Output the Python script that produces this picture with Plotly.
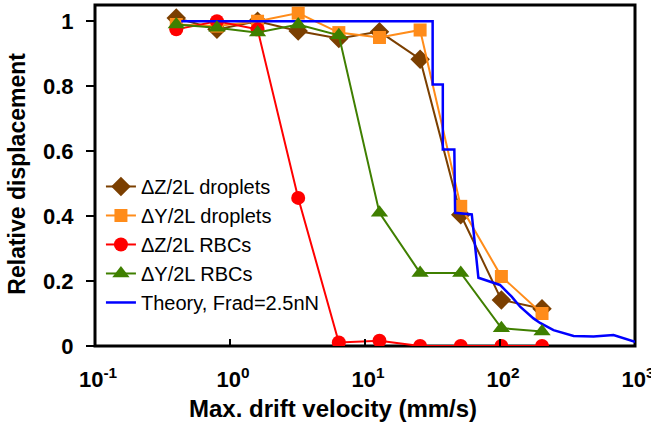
import plotly.graph_objects as go

# Data
velocity = [0.4, 0.8, 1.6, 3.2, 6.4, 12.8, 25.6, 51.2, 102.4, 204.8]
dz_droplets = [1.01, 0.975, 1.0, 0.97, 0.947, 0.968, 0.883, 0.404, 0.142, 0.115]
dy_droplets = [0.99, 0.985, 1.0, 1.025, 0.965, 0.95, 0.973, 0.43, 0.214, 0.10]
dz_rbcs = [0.975, 1.0, 0.975, 0.456, 0.011, 0.016, 0.0, 0.0, 0.0, 0.0]
dy_rbcs = [0.99, 0.98, 0.965, 0.99, 0.957, 0.41, 0.225, 0.225, 0.055, 0.045]

theory_x = [0.435, 31.7, 31.7, 37.7, 37.7, 45.9, 46.5, 61.8, 69.2, 100, 122, 141,
            177, 198, 249, 351, 493, 693, 1000]
theory_y = [1.0, 1.0, 0.805, 0.805, 0.605, 0.605, 0.41, 0.405, 0.21, 0.188, 0.152,
            0.121, 0.085, 0.071, 0.049, 0.031, 0.029, 0.034, 0.013]

x_tickvals = [0.1, 1, 10, 100, 1000]
x_ticktext = ["10<sup>-1</sup>", "10<sup>0</sup>", "10<sup>1</sup>", "10<sup>2</sup>", "10<sup>3</sup>"]
y_tickvals = [0, 0.2, 0.4, 0.6, 0.8, 1]
y_ticktext = ["0", "0.2", "0.4", "0.6", "0.8", "1"]

FONT = "Liberation Sans, Arial, sans-serif"
BROWN = "#7B3F00"
ORANGE = "#FF8C1A"
RED = "#FF0000"
GREEN = "#3F7F00"
BLUE = "#0000FF"

fig = go.Figure()
fig.add_trace(go.Scatter(x=velocity, y=dz_droplets, mode="lines+markers",
                         name="\u0394Z/2L droplets", legendrank=1,
                         line=dict(color=BROWN, width=2),
                         marker=dict(symbol="diamond", size=15, color=BROWN)))
fig.add_trace(go.Scatter(x=velocity, y=dy_droplets, mode="lines+markers",
                         name="\u0394Y/2L droplets", legendrank=2,
                         line=dict(color=ORANGE, width=2),
                         marker=dict(symbol="square", size=13, color=ORANGE)))
fig.add_trace(go.Scatter(x=velocity, y=dz_rbcs, mode="lines+markers",
                         name="\u0394Z/2L RBCs", legendrank=3,
                         line=dict(color=RED, width=2),
                         marker=dict(symbol="circle", size=14, color=RED)))
fig.add_trace(go.Scatter(x=theory_x, y=theory_y, mode="lines",
                         name="Theory, Frad=2.5nN", legendrank=5,
                         line=dict(color=BLUE, width=2.5)))
fig.add_trace(go.Scatter(x=velocity, y=dy_rbcs, mode="lines+markers",
                         name="\u0394Y/2L RBCs", legendrank=4,
                         line=dict(color=GREEN, width=2),
                         marker=dict(symbol="triangle-up", size=15, color=GREEN)))

fig.update_layout(
    width=651, height=427,
    margin=dict(l=95, r=16, t=5, b=81, autoexpand=False),
    paper_bgcolor="white", plot_bgcolor="white",
    font=dict(family=FONT, color="black"),
    showlegend=True,
    legend=dict(x=0.011, y=0.525, xanchor="left", yanchor="top",
                font=dict(family=FONT, size=20, color="black"),
                bgcolor="rgba(0,0,0,0)", itemwidth=30,
                tracegroupgap=0),
    xaxis=dict(type="log", range=[-1, 3], automargin=False,
               tickvals=x_tickvals, ticktext=x_ticktext,
               ticks="inside", ticklen=7, tickwidth=2, tickcolor="black",
               tickfont=dict(family=FONT, size=22, weight="bold"),
               ticklabelshift=3, ticklabelstandoff=18,
               ticklabeloverflow="allow",
               showline=False, showgrid=False, zeroline=False),
    yaxis=dict(range=[0, 1.05], automargin=False,
               tickvals=y_tickvals, ticktext=y_ticktext,
               ticks="outside", ticklen=8, tickwidth=2, tickcolor="black",
               tickfont=dict(family=FONT, size=22, weight="bold"),
               ticklabelstandoff=8,
               showline=False, showgrid=False, zeroline=False),
    shapes=[
        dict(type="rect", xref="paper", yref="paper", x0=0, x1=1, y0=0, y1=1,
             line=dict(color="black", width=3), fillcolor="rgba(0,0,0,0)",
             layer="below"),
    ],
    annotations=[
        dict(text="Max. drift velocity (mm/s)", xref="paper", yref="paper",
             x=0.4405, y=-0.182, xanchor="center", yanchor="middle",
             showarrow=False, font=dict(family=FONT, size=24, weight="bold")),
        dict(text="Relative displacement", xref="paper", yref="paper",
             x=-0.1437, y=0.5066, xanchor="center", yanchor="middle",
             textangle=-90, showarrow=False,
             font=dict(family=FONT, size=23, weight="bold")),
    ],
)

fig.write_html(
    "out.html",
    config={"displayModeBar": False},
    post_script=(
        "document.body.style.margin='0';document.body.style.padding='0';"
        "document.body.style.overflow='hidden';"
        "document.documentElement.style.overflow='hidden';"
    ),
)
